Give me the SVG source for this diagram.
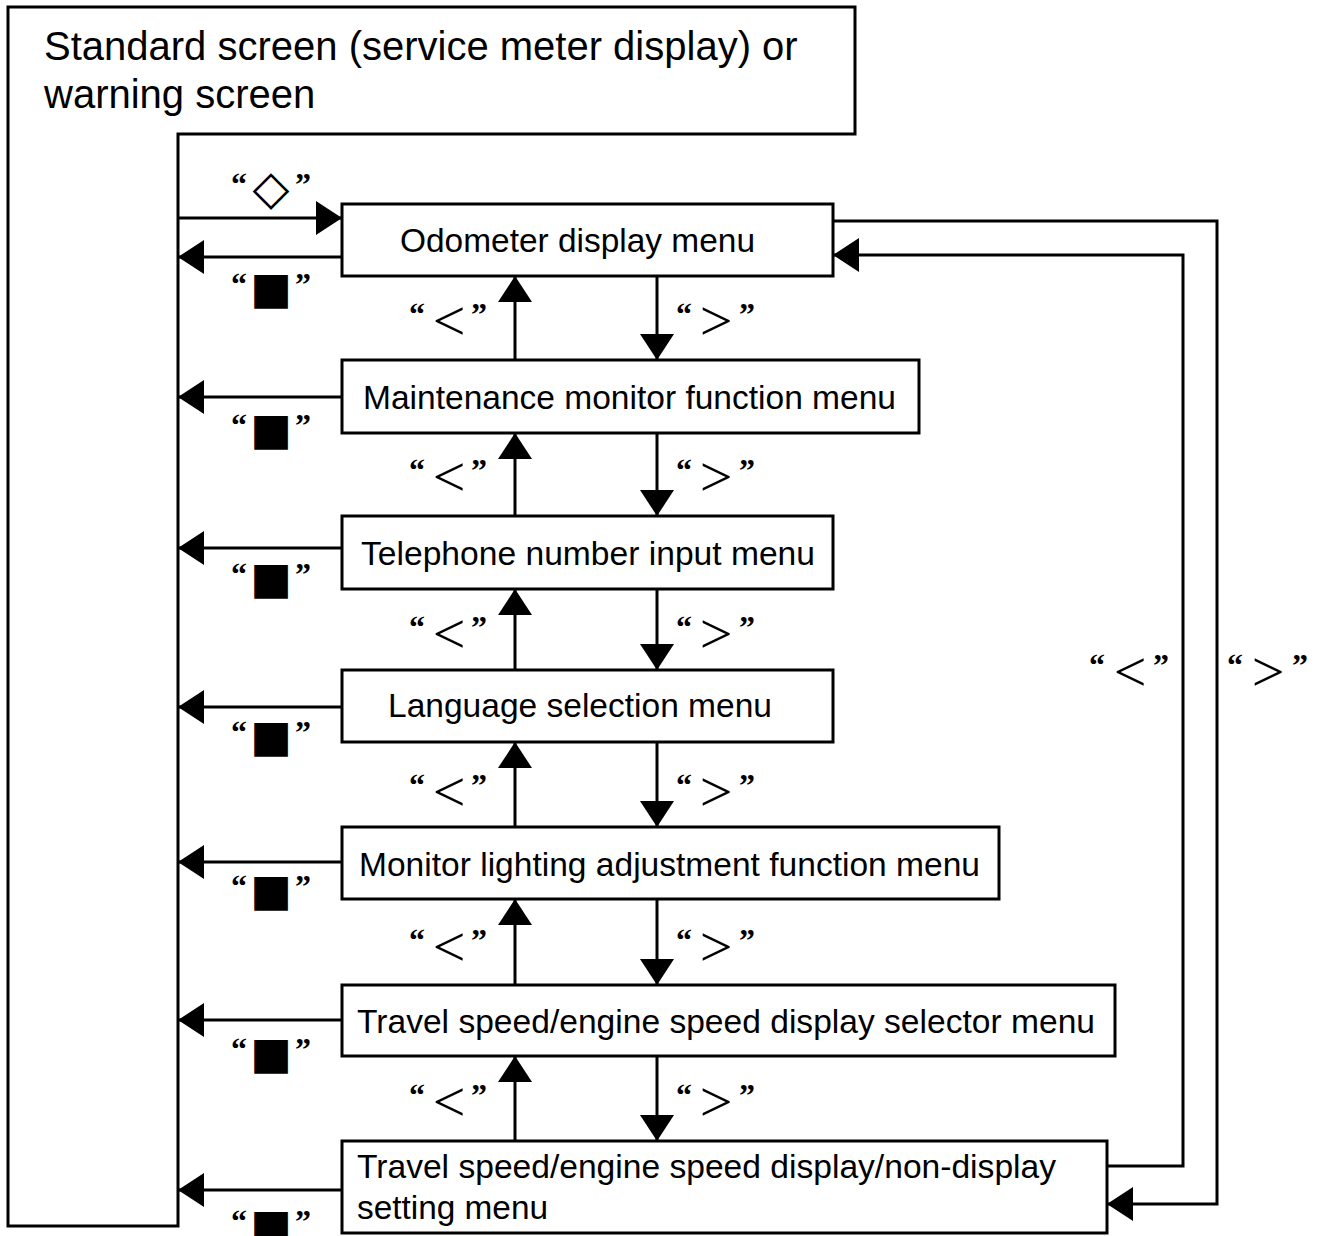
<svg xmlns="http://www.w3.org/2000/svg" width="1323" height="1236" viewBox="0 0 1323 1236">
<style>
.bx{fill:#fff;stroke:#000;stroke-width:3}
.ln{fill:none;stroke:#000;stroke-width:3}
.t{font-family:"Liberation Sans",Arial,sans-serif;font-size:33.5px;fill:#000}
.ttl{font-family:"Liberation Sans",Arial,sans-serif;font-size:40px;fill:#000}
.q{font-family:"Liberation Serif","Times New Roman",serif;font-weight:bold;font-size:32px}
.lt{font-family:"Liberation Serif","Times New Roman",serif;font-size:58px;text-anchor:middle}
.sym{font-family:"DejaVu Sans",sans-serif;font-size:48px;text-anchor:middle}
.sq{font-family:"DejaVu Sans",sans-serif;font-size:44px;text-anchor:middle}
</style>
<defs>
<marker id="ah" markerUnits="userSpaceOnUse" markerWidth="27" markerHeight="34" refX="26" refY="17" orient="auto" viewBox="0 0 27 34">
<path d="M0,0 L26,17 L0,34 Z" fill="#000"/>
</marker>
</defs>
<g id="standard-screen">
<polygon class="ln" points="8,7 855,7 855,134 178,134 178,1226 8,1226"/>
<text class="ttl" x="44" y="60">Standard screen (service meter display) or</text>
<text class="ttl" x="44" y="108">warning screen</text>
</g>
<g id="odometer">
<rect class="bx" x="342" y="204" width="491" height="72"/>
<text class="t" x="400" y="252" textLength="355" lengthAdjust="spacingAndGlyphs">Odometer display menu</text>
</g>
<g id="maintenance">
<rect class="bx" x="342" y="360" width="577" height="73"/>
<text class="t" x="363" y="409" textLength="533" lengthAdjust="spacingAndGlyphs">Maintenance monitor function menu</text>
</g>
<g id="telephone">
<rect class="bx" x="342" y="516" width="491" height="73"/>
<text class="t" x="361" y="565" textLength="454" lengthAdjust="spacingAndGlyphs">Telephone number input menu</text>
</g>
<g id="language">
<rect class="bx" x="342" y="670" width="491" height="72"/>
<text class="t" x="388" y="717" textLength="384" lengthAdjust="spacingAndGlyphs">Language selection menu</text>
</g>
<g id="lighting">
<rect class="bx" x="342" y="827" width="657" height="72"/>
<text class="t" x="359" y="876" textLength="621" lengthAdjust="spacingAndGlyphs">Monitor lighting adjustment function menu</text>
</g>
<g id="speed-selector">
<rect class="bx" x="342" y="985" width="773" height="71"/>
<text class="t" x="357" y="1033" textLength="738" lengthAdjust="spacingAndGlyphs">Travel speed/engine speed display selector menu</text>
</g>
<g id="speed-display-setting">
<rect class="bx" x="342" y="1141" width="765" height="92"/>
<text class="t" x="357" y="1178" textLength="699" lengthAdjust="spacingAndGlyphs">Travel speed/engine speed display/non-display</text>
<text class="t" x="357" y="1219" textLength="191" lengthAdjust="spacingAndGlyphs">setting menu</text>
</g>
<g id="connectors">
<line class="ln" x1="178" y1="218" x2="342" y2="218" marker-end="url(#ah)"/>
<line class="ln" x1="342" y1="257" x2="178" y2="257" marker-end="url(#ah)"/>
<line class="ln" x1="342" y1="397" x2="178" y2="397" marker-end="url(#ah)"/>
<line class="ln" x1="342" y1="548" x2="178" y2="548" marker-end="url(#ah)"/>
<line class="ln" x1="342" y1="707" x2="178" y2="707" marker-end="url(#ah)"/>
<line class="ln" x1="342" y1="862" x2="178" y2="862" marker-end="url(#ah)"/>
<line class="ln" x1="342" y1="1020" x2="178" y2="1020" marker-end="url(#ah)"/>
<line class="ln" x1="342" y1="1190" x2="178" y2="1190" marker-end="url(#ah)"/>
<line class="ln" x1="515" y1="360" x2="515" y2="276" marker-end="url(#ah)"/>
<line class="ln" x1="515" y1="516" x2="515" y2="433" marker-end="url(#ah)"/>
<line class="ln" x1="515" y1="670" x2="515" y2="589" marker-end="url(#ah)"/>
<line class="ln" x1="515" y1="827" x2="515" y2="742" marker-end="url(#ah)"/>
<line class="ln" x1="515" y1="985" x2="515" y2="899" marker-end="url(#ah)"/>
<line class="ln" x1="515" y1="1141" x2="515" y2="1056" marker-end="url(#ah)"/>
<line class="ln" x1="657" y1="276" x2="657" y2="360" marker-end="url(#ah)"/>
<line class="ln" x1="657" y1="433" x2="657" y2="516" marker-end="url(#ah)"/>
<line class="ln" x1="657" y1="589" x2="657" y2="670" marker-end="url(#ah)"/>
<line class="ln" x1="657" y1="742" x2="657" y2="827" marker-end="url(#ah)"/>
<line class="ln" x1="657" y1="899" x2="657" y2="985" marker-end="url(#ah)"/>
<line class="ln" x1="657" y1="1056" x2="657" y2="1141" marker-end="url(#ah)"/>
<polyline class="ln" points="833,221 1217,221 1217,1204 1107,1204" marker-end="url(#ah)"/>
<polyline class="ln" points="1107,1166 1183,1166 1183,255 833,255" marker-end="url(#ah)"/>
</g>
<g id="labels">
<text><tspan class="q" x="231" y="195">“</tspan><tspan class="sym" x="271" y="204">◇</tspan><tspan class="q" x="295" y="195">”</tspan></text>
<text><tspan class="q" x="231" y="295">“</tspan><tspan class="sq" x="271" y="303">■</tspan><tspan class="q" x="295" y="295">”</tspan></text>
<text><tspan class="q" x="231" y="436">“</tspan><tspan class="sq" x="271" y="444">■</tspan><tspan class="q" x="295" y="436">”</tspan></text>
<text><tspan class="q" x="231" y="585">“</tspan><tspan class="sq" x="271" y="593">■</tspan><tspan class="q" x="295" y="585">”</tspan></text>
<text><tspan class="q" x="231" y="743">“</tspan><tspan class="sq" x="271" y="751">■</tspan><tspan class="q" x="295" y="743">”</tspan></text>
<text><tspan class="q" x="231" y="897">“</tspan><tspan class="sq" x="271" y="905">■</tspan><tspan class="q" x="295" y="897">”</tspan></text>
<text><tspan class="q" x="231" y="1060">“</tspan><tspan class="sq" x="271" y="1068">■</tspan><tspan class="q" x="295" y="1060">”</tspan></text>
<text><tspan class="q" x="231" y="1232">“</tspan><tspan class="sq" x="271" y="1240">■</tspan><tspan class="q" x="295" y="1232">”</tspan></text>
<text><tspan class="q" x="409" y="325">“</tspan><tspan class="lt" x="449" y="340">&lt;</tspan><tspan class="q" x="471" y="325">”</tspan></text>
<text><tspan class="q" x="409" y="481">“</tspan><tspan class="lt" x="449" y="496">&lt;</tspan><tspan class="q" x="471" y="481">”</tspan></text>
<text><tspan class="q" x="409" y="638">“</tspan><tspan class="lt" x="449" y="653">&lt;</tspan><tspan class="q" x="471" y="638">”</tspan></text>
<text><tspan class="q" x="409" y="796">“</tspan><tspan class="lt" x="449" y="811">&lt;</tspan><tspan class="q" x="471" y="796">”</tspan></text>
<text><tspan class="q" x="409" y="951">“</tspan><tspan class="lt" x="449" y="966">&lt;</tspan><tspan class="q" x="471" y="951">”</tspan></text>
<text><tspan class="q" x="409" y="1106">“</tspan><tspan class="lt" x="449" y="1121">&lt;</tspan><tspan class="q" x="471" y="1106">”</tspan></text>
<text><tspan class="q" x="676" y="325">“</tspan><tspan class="lt" x="716" y="340">&gt;</tspan><tspan class="q" x="739" y="325">”</tspan></text>
<text><tspan class="q" x="676" y="481">“</tspan><tspan class="lt" x="716" y="496">&gt;</tspan><tspan class="q" x="739" y="481">”</tspan></text>
<text><tspan class="q" x="676" y="638">“</tspan><tspan class="lt" x="716" y="653">&gt;</tspan><tspan class="q" x="739" y="638">”</tspan></text>
<text><tspan class="q" x="676" y="796">“</tspan><tspan class="lt" x="716" y="811">&gt;</tspan><tspan class="q" x="739" y="796">”</tspan></text>
<text><tspan class="q" x="676" y="951">“</tspan><tspan class="lt" x="716" y="966">&gt;</tspan><tspan class="q" x="739" y="951">”</tspan></text>
<text><tspan class="q" x="676" y="1106">“</tspan><tspan class="lt" x="716" y="1121">&gt;</tspan><tspan class="q" x="739" y="1106">”</tspan></text>
<text><tspan class="q" x="1089" y="676">“</tspan><tspan class="lt" x="1130" y="691">&lt;</tspan><tspan class="q" x="1153" y="676">”</tspan></text>
<text><tspan class="q" x="1227" y="676">“</tspan><tspan class="lt" x="1268" y="691">&gt;</tspan><tspan class="q" x="1292" y="676">”</tspan></text>
</g>
</svg>
